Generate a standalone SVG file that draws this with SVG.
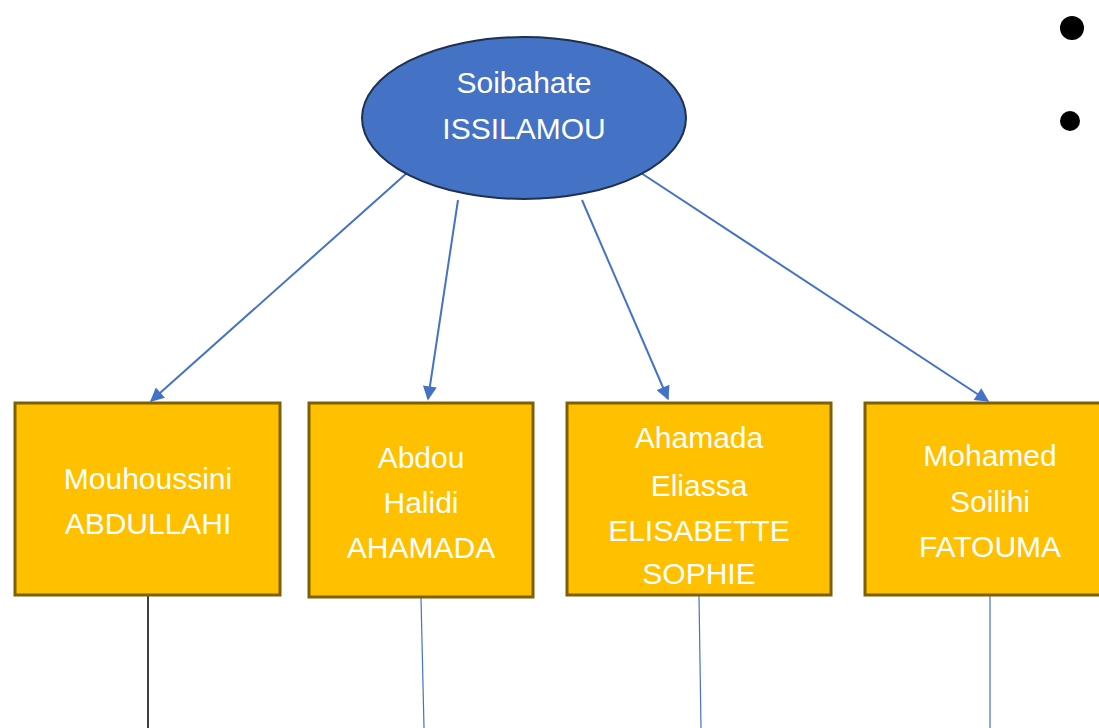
<svg xmlns="http://www.w3.org/2000/svg" width="1099" height="728" viewBox="0 0 1099 728">
<style>
.t{font-family:"Liberation Sans",Arial,sans-serif;font-size:30px;fill:#fff;text-anchor:middle}
.box{fill:#FFC000;stroke:#7F6000;stroke-width:3}
.arr{stroke:#4472C4;stroke-width:2;fill:none}
.ln{stroke:#4472C4;stroke-width:1.2;fill:none}
</style>
<defs>
<marker id="ah" viewBox="0 0 10 10" refX="9" refY="5" markerWidth="7.5" markerHeight="7" orient="auto" markerUnits="strokeWidth">
<path d="M0,0 L10,5 L0,10 z" fill="#4472C4"/>
</marker>
</defs>
<rect width="1099" height="728" fill="#fff"/>
<g id="connectors">
<line class="arr" x1="408" y1="172" x2="151" y2="401" marker-end="url(#ah)"/>
<line class="arr" x1="458" y1="200" x2="428" y2="399" marker-end="url(#ah)"/>
<line class="arr" x1="582" y1="200" x2="668" y2="399" marker-end="url(#ah)"/>
<line class="arr" x1="638" y1="171" x2="988" y2="401" marker-end="url(#ah)"/>
<line x1="148" y1="596" x2="148" y2="728" stroke="#000" stroke-width="1.5"/>
<line class="ln" x1="421" y1="598" x2="424" y2="728"/>
<line class="ln" x1="699" y1="596" x2="701" y2="728"/>
<line class="ln" x1="990" y1="596" x2="990" y2="728"/>
</g>
<g id="root">
<ellipse cx="524" cy="118" rx="162" ry="81" fill="#4472C4" stroke="#1F3050" stroke-width="2"/>
<text class="t" x="524" y="93">Soibahate</text>
<text class="t" x="524" y="139">ISSILAMOU</text>
</g>
<g id="n1">
<rect class="box" x="15" y="403" width="265" height="192"/>
<text class="t" x="148" y="489">Mouhoussini</text>
<text class="t" x="148" y="534">ABDULLAHI</text>
</g>
<g id="n2">
<rect class="box" x="309" y="403" width="224" height="194"/>
<text class="t" x="421" y="468">Abdou</text>
<text class="t" x="421" y="513">Halidi</text>
<text class="t" x="421" y="558">AHAMADA</text>
</g>
<g id="n3">
<rect class="box" x="567" y="403" width="264" height="192"/>
<text class="t" x="699" y="448">Ahamada</text>
<text class="t" x="699" y="496">Eliassa</text>
<text class="t" x="699" y="541">ELISABETTE</text>
<text class="t" x="699" y="584">SOPHIE</text>
</g>
<g id="n4">
<rect class="box" x="865" y="403" width="250" height="192"/>
<text class="t" x="990" y="466">Mohamed</text>
<text class="t" x="990" y="512">Soilihi</text>
<text class="t" x="990" y="557">FATOUMA</text>
</g>
<g id="bullets">
<circle cx="1072" cy="28" r="12" fill="#000"/>
<circle cx="1070" cy="121" r="10" fill="#000"/>
</g>
</svg>
